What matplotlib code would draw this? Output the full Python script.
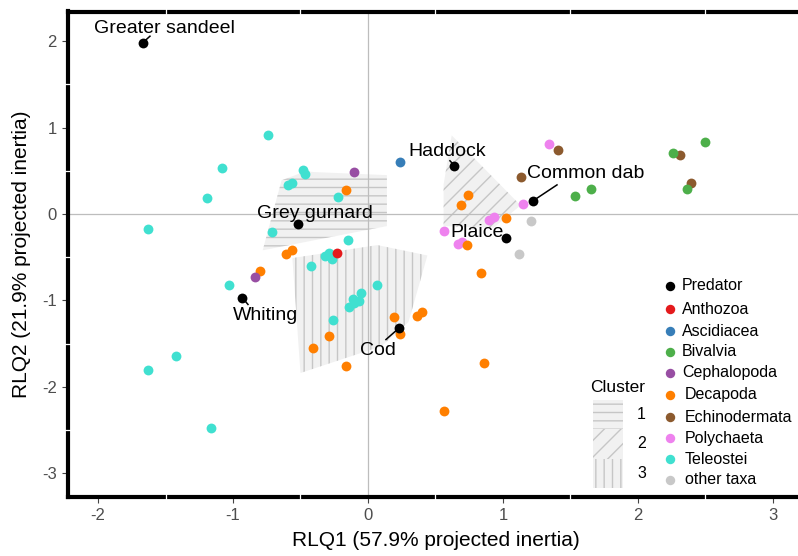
import matplotlib
matplotlib.use("Agg")
import matplotlib.pyplot as plt
from matplotlib.patches import Polygon, Rectangle
from matplotlib.transforms import blended_transform_factory as btf

plt.rcParams['font.family'] = ['Liberation Sans', 'DejaVu Sans']
plt.rcParams['hatch.linewidth'] = 1.0

# ---------------- data ----------------
groups = ["Predator", "Anthozoa", "Ascidiacea", "Bivalvia", "Cephalopoda",
          "Decapoda", "Echinodermata", "Polychaeta", "Teleostei", "other taxa"]
colors = ["#000000", "#E41A1C", "#377EB8", "#4DAF4A", "#984EA3",
          "#FF7F00", "#8C5A2E", "#EE82EE", "#40E0D0", "#C8C8C8"]

pred_names = ["Greater sandeel", "Haddock", "Common dab", "Plaice",
              "Grey gurnard", "Whiting", "Cod"]
pred_x = [-1.67, 0.64, 1.22, 1.02, -0.52, -0.93, 0.23]
pred_y = [1.98, 0.56, 0.15, -0.28, -0.12, -0.97, -1.32]

antho_x = [-0.23]
antho_y = [-0.45]
ascid_x = [0.24]
ascid_y = [0.60]
bival_x = [1.53, 1.65, 2.26, 2.50, 2.36]
bival_y = [0.21, 0.29, 0.71, 0.83, 0.29]
cephal_x = [-0.10, -0.84]
cephal_y = [0.49, -0.73]
decap_x = [-0.16, -0.61, -0.56, -0.80, 0.19, 0.36, 0.40, 0.24, -0.29, -0.41,
           -0.16, 0.56, 0.84, 0.74, 0.69, 1.02, 0.73, 0.86]
decap_y = [0.28, -0.46, -0.42, -0.66, -1.19, -1.18, -1.13, -1.39, -1.41, -1.55,
           -1.76, -2.28, -0.68, 0.22, 0.10, -0.05, -0.36, -1.72]
echin_x = [1.41, 1.13, 2.31, 2.39]
echin_y = [0.74, 0.43, 0.68, 0.36]
polyc_x = [1.34, 1.15, 0.56, 0.90, 0.93, 0.67, 0.70]
polyc_y = [0.81, 0.12, -0.20, -0.07, -0.04, -0.35, -0.32]
teleo_x = [-0.74, -1.08, -0.48, -0.47, -0.59, -0.56, -1.19, -0.22, -1.63, -0.71,
           -0.15, -0.29, -0.32, -0.27, -0.42, 0.07, -0.05, -0.11, -0.07, -0.14,
           -0.10, -0.26, -1.03, -1.42, -1.63, -1.16]
teleo_y = [0.91, 0.53, 0.51, 0.46, 0.34, 0.36, 0.19, 0.20, -0.17, -0.21,
           -0.30, -0.45, -0.49, -0.52, -0.60, -0.82, -0.91, -0.98, -1.01, -1.08,
           -1.03, -1.23, -0.82, -1.64, -1.81, -2.48]
other_x = [1.21, 1.12]
other_y = [-0.08, -0.46]

# cluster hulls
clu1_x = [-0.64, -0.47, 0.14, 0.14, -0.78]
clu1_y = [0.39, 0.49, 0.45, -0.14, -0.42]
clu2_x = [0.62, 1.13, 0.93, 0.56, 0.56]
clu2_y = [0.91, 0.10, -0.16, -0.14, 0.34]
clu3_x = [-0.56, 0.07, 0.44, 0.30, 0.10, -0.50]
clu3_y = [-0.51, -0.36, -0.48, -1.25, -1.53, -1.84]
cluster_labels = ["1", "2", "3"]
cluster_hatch = ["--", "//", "||"]

# label placement (text centre) and segment ends
lab_x = [-1.51, 0.585, 1.615, 0.81, -0.39, -0.76, 0.07]
lab_y = [2.15, 0.72, 0.465, -0.21, 0.01, -1.17, -1.58]
seg_end = {"Greater sandeel": (-1.615, 2.058), "Haddock": (0.607, 0.616),
           "Common dab": (1.40, 0.337), "Whiting": (-0.889, -1.047),
           "Cod": (0.133, -1.453)}

xticks = [-2, -1, 0, 1, 2, 3]
yticks = [-3, -2, -1, 0, 1, 2]

# ---------------- figure ----------------
W, H = 798, 556
fig = plt.figure(figsize=(W / 100, H / 100), dpi=100)
L, R, T, B = 68, 803, 11.5, 497
ax = fig.add_axes([L / W, 1 - B / H, (R - L) / W, (B - T) / H])
ax.set_xlim((L - 368) / 135, (R - 368) / 135)
ax.set_ylim((214 - B) / 86.4, (214 - T) / 86.4)

fill = "#F1F1F1"
hcol = "#C6C6C6"
for cx, cy, h in zip([clu1_x, clu2_x, clu3_x], [clu1_y, clu2_y, clu3_y], cluster_hatch):
    ax.add_patch(Polygon(list(zip(cx, cy)), closed=True, facecolor=fill,
                         edgecolor=hcol, hatch=h, linewidth=0, zorder=1))

ax.axhline(0, color="#BDBDBD", lw=0.9, zorder=1.5)
ax.axvline(0, color="#BDBDBD", lw=0.9, zorder=1.5)

series = [(pred_x, pred_y), (antho_x, antho_y), (ascid_x, ascid_y), (bival_x, bival_y),
          (cephal_x, cephal_y), (decap_x, decap_y), (echin_x, echin_y),
          (polyc_x, polyc_y), (teleo_x, teleo_y), (other_x, other_y)]
order = [9, 8, 7, 6, 5, 4, 3, 2, 1, 0]
for i in order:
    sx, sy = series[i]
    ax.scatter(sx, sy, s=50, color=colors[i], linewidths=0, zorder=3 + (i == 0))

for name, px, py, lx, ly in zip(pred_names, pred_x, pred_y, lab_x, lab_y):
    if name in seg_end:
        ex, ey = seg_end[name]
        ax.plot([px, ex], [py, ey], color="black", lw=1.1, zorder=4)
    ax.text(lx, ly, name, fontsize=14, ha="center", va="center", zorder=5)

# axes styling
for s in ax.spines.values():
    s.set_linewidth(3)
    s.set_color("black")
ax.set_xticks(xticks)
ax.set_yticks(yticks)
ax.set_xticklabels([str(v) for v in xticks])
ax.set_yticklabels([str(v) for v in yticks])
ax.tick_params(length=4, width=0.8, color="#444444", labelcolor="#4D4D4D",
               labelsize=12, pad=4)
ax.set_xlabel("RLQ1 (57.9% projected inertia)", fontsize=15, labelpad=6)
ax.set_ylabel("RLQ2 (21.9% projected inertia)", fontsize=15, labelpad=8)

# white minor grid marks crossing the border
tx = btf(ax.transData, ax.transAxes)
ty = btf(ax.transAxes, ax.transData)
for v in [-1.5, -0.5, 0.5, 1.5, 2.5]:
    for y0, y1 in [(-0.006, 0.006), (0.994, 1.006)]:
        ax.plot([v, v], [y0, y1], transform=tx, color="white", lw=0.9,
                clip_on=False, zorder=3)
for v in [-2.5, -1.5, -0.5, 0.5, 1.5]:
    ax.plot([-0.004, 0.004], [v, v], transform=ty, color="white", lw=0.9,
            clip_on=False, zorder=3)

# ---------------- legends (figure pixel positions) ----------------
def fp(x, y):
    return (x / W, 1 - y / H)

leg_y = [286, 309, 331, 352, 373, 395, 417, 438, 459, 480]
text_x = [682, 682, 682, 682, 682, 685, 685, 685, 685, 685]
for g, c, yy, tx0 in zip(groups, colors, leg_y, text_x):
    fig.lines.append(plt.Line2D([fp(670, yy)[0]], [fp(670, yy)[1]], marker="o",
                                markersize=6.8, markeredgewidth=0, color=c,
                                linestyle="none", transform=fig.transFigure))
    fig.text(*fp(tx0, yy), g, fontsize=11.5, ha="left", va="center")

fig.text(*fp(590, 387), "Cluster", fontsize=12.5, ha="left", va="center")
key_top = [399.5, 429, 458.5]
for lab, h, kt in zip(cluster_labels, cluster_hatch, key_top):
    x0, y0 = fp(593, kt + 29.5)
    fig.patches.append(Rectangle((x0, y0), 30 / W, 29.5 / H, transform=fig.transFigure,
                                 facecolor=fill, edgecolor=hcol, hatch=h, linewidth=0))
    fig.text(*fp(637, kt + 15), lab, fontsize=11.5, ha="left", va="center")

fig.savefig("out.png", dpi=100)
